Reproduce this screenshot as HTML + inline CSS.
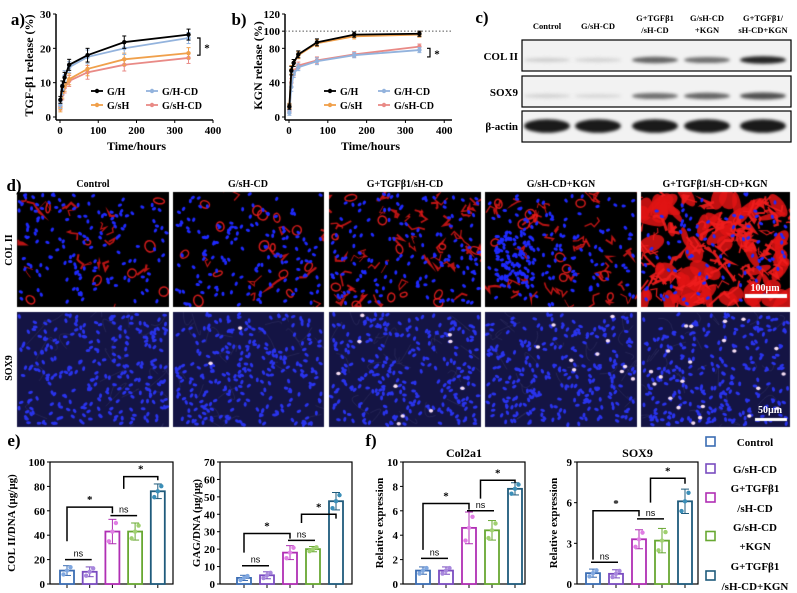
<!DOCTYPE html>
<html><head><meta charset="utf-8">
<style>
html,body{margin:0;padding:0;background:#fff;}
#wrap{position:relative;width:797px;height:593px;overflow:hidden;font-family:"Liberation Serif",serif;}
canvas{position:absolute;}
svg{position:absolute;left:0;top:0;}
text{font-family:"Liberation Serif",serif;font-weight:bold;}
.ns{font-family:"Liberation Sans",sans-serif;font-weight:normal;}
</style></head>
<body>
<div id="wrap">
<canvas id="blot" width="270" height="103" style="left:522px;top:40px"></canvas>
<canvas id="micro" width="797" height="240" style="left:0;top:190px"></canvas>
<svg id="svg" width="797" height="593"></svg>
</div>
<script>
// ---------- DATA ----------
const times=[1,6,12,24,72,168,336];
const aGH=[5,9,11.5,15.2,18,21.8,24];
const aGsH=[2.5,7,9,11,14,16.8,18.6];
const aGHCD=[3.5,8,12,14.5,17.5,20,23];
const aGsHCD=[3,6.5,8.5,10.5,13,15.2,17.2];
const aErr=[1,1.5,1.5,1.6,2,1.8,1.6];
const bGH=[12,54,63,73,87,96,97];
const bGsH=[13,55,63,72,86,94,96];
const bGHCD=[5,35,50,58,65,72,78];
const bGsHCD=[7,40,52,60,66,73,82];
const bErr=[3,5,4,4,4,3,3];
const aTicksY=[0,10,20,30];
const bTicksY=[0,40,80,100,120];
const tTicksX=[0,100,200,300,400];
const groups=["Control","G/sH-CD","G+TGFβ1/sH-CD","G/sH-CD+KGN","G+TGFβ1/sH-CD+KGN"];
const colDNA=[11,10,43,43,76];
const colDNAsd=[4,4,10,7,6];
const gagDNA=[3.5,5,18,20,47.5];
const gagDNAsd=[1.5,2,4,1.5,5];
const col2a1=[1.1,1.1,4.6,4.4,7.8];
const col2a1sd=[0.3,0.3,1.3,0.8,0.5];
const sox9=[0.8,0.75,3.3,3.2,6.1];
const sox9sd=[0.3,0.3,0.7,0.9,0.9];
const colTicks=[0,20,40,60,80,100];
const gagTicks=[0,10,20,30,40,50,60,70];
const c2Ticks=[0,2,4,6,8,10];
const sxTicks=[0,3,6,9];
const blotCol2=[0.1,0.08,0.6,0.55,0.9];
const blotSox=[0.08,0.06,0.55,0.6,0.7];
const blotAct=[0.95,0.95,0.95,0.95,0.95];

const NS="http://www.w3.org/2000/svg";
const svg=document.getElementById('svg');
function el(tag,attrs,parent,txt){const e=document.createElementNS(NS,tag);for(const k in attrs)e.setAttribute(k,attrs[k]);if(txt!==undefined)e.textContent=txt;(parent||svg).appendChild(e);return e;}
function txt(x,y,s,size,opts){opts=opts||{};const t=el('text',{x:x,y:y,'font-size':size,'text-anchor':opts.anchor||'middle',fill:opts.fill||'#000'},opts.parent,s);if(opts.rot)t.setAttribute('transform','rotate(-90 '+x+' '+y+')');if(opts.cls)t.setAttribute('class',opts.cls);return t;}

// ---------- LINE CHARTS ----------
function lineChart(o){
  const g=el('g',{});
  const sx=v=>o.x0+(v/o.xmax)*(o.x1-o.x0);
  const sy=v=>o.y0-(v/o.ymax)*(o.y0-o.y1);
  el('line',{x1:o.x0-4,y1:o.y0+3,x2:o.x0-4,y2:o.y1,stroke:'#000','stroke-width':1.5},g);
  el('line',{x1:o.x0-4,y1:o.y0+3,x2:o.x1,y2:o.y0+3,stroke:'#000','stroke-width':1.5},g);
  if(o.box){el('line',{x1:o.x0-4,y1:o.y1,x2:o.x1,y2:o.y1,stroke:'#000','stroke-width':1.2},g);el('line',{x1:o.x1,y1:o.y1,x2:o.x1,y2:o.y0+3,stroke:'#000','stroke-width':1.2},g);}
  o.yt.forEach(v=>{el('line',{x1:o.x0-7,x2:o.x0-4,y1:sy(v),y2:sy(v),stroke:'#000'},g);txt(o.x0-9,sy(v)+4,String(v),11,{anchor:'end',parent:g,name:'y-tick-label'});});
  tTicksX.forEach(v=>{el('line',{x1:sx(v),x2:sx(v),y1:o.y0+3,y2:o.y0+6,stroke:'#000'},g);txt(sx(v),o.y0+17,String(v),11,{parent:g,name:'x-tick-label'});});
  if(o.dotted)el('line',{x1:o.x0-4,x2:o.x1,y1:sy(100),y2:sy(100),stroke:'#555','stroke-dasharray':'1.5 2'},g);
  o.series.forEach(s=>{
    const p=el('polyline',{points:times.map((t,i)=>sx(t)+','+sy(s.v[i])).join(' '),fill:'none',stroke:s.c,'stroke-width':1.8},g);
    
    times.forEach((t,i)=>{const x=sx(t),e=o.err[i];
      el('line',{x1:x,x2:x,y1:sy(s.v[i]-e),y2:sy(s.v[i]+e),stroke:s.c,'stroke-width':1},g);
      el('line',{x1:x-2,x2:x+2,y1:sy(s.v[i]+e),y2:sy(s.v[i]+e),stroke:s.c},g);
      el('line',{x1:x-2,x2:x+2,y1:sy(s.v[i]-e),y2:sy(s.v[i]-e),stroke:s.c},g);
      const m=el('circle',{cx:x,cy:sy(s.v[i]),r:2.2,fill:s.c},g);});
  });
  txt((o.x0+o.x1)/2,o.y0+33,'Time/hours',12,{parent:g,name:'x-axis-title'});
  txt(o.x0-27,(o.y0+o.y1)/2,o.ytitle,12,{rot:1,parent:g,name:'y-axis-title'});
  o.legend.forEach(l=>{el('line',{x1:l.x-6,x2:l.x+6,y1:l.y,y2:l.y,stroke:l.c,'stroke-width':1.8},g);el('circle',{cx:l.x,cy:l.y,r:2.2,fill:l.c},g);txt(l.x+10,l.y+4,l.n,10,{anchor:'start',parent:g,name:'legend-entry'});});
  const bx=o.brk;el('polyline',{points:(bx-3)+','+sy(o.b1)+' '+bx+','+sy(o.b1)+' '+bx+','+sy(o.b2)+' '+(bx-3)+','+sy(o.b2),fill:'none',stroke:'#000','stroke-width':1.2},g);
  txt(bx+7,(sy(o.b1)+sy(o.b2))/2+5,'*',11,{parent:g,name:'significance-star'});
}
const K='#000',O='#f0a04b',B='#93b3dd',P='#e98a86';
txt(18,25,'a)',17,{name:'panel-a-label'});
lineChart({name:'release-chart-tgf',x0:60,x1:213,y0:117,y1:14,xmax:400,ymax:30,yt:aTicksY,err:aErr,ytitle:'TGF-β1 release (%)',
 series:[{n:'gsh-cd',v:aGsHCD,c:P},{n:'gsh',v:aGsH,c:O},{n:'gh-cd',v:aGHCD,c:B},{n:'gh',v:aGH,c:K}],
 legend:[{x:97,y:91,c:K,n:'G/H'},{x:97,y:105,c:O,n:'G/sH'},{x:152,y:91,c:B,n:'G/H-CD'},{x:152,y:105,c:P,n:'G/sH-CD'}],brk:200,b1:23,b2:18});
txt(239,25,'b)',17,{name:'panel-b-label'});
lineChart({name:'release-chart-kgn',x0:289,x1:452,y0:117,y1:14,xmax:420,ymax:120,yt:bTicksY,err:bErr,ytitle:'KGN release (%)',dotted:1,
 series:[{n:'gsh-cd',v:bGsHCD,c:P},{n:'gh-cd',v:bGHCD,c:B},{n:'gsh',v:bGsH,c:O},{n:'gh',v:bGH,c:K}],
 legend:[{x:330,y:91,c:K,n:'G/H'},{x:330,y:105,c:O,n:'G/sH'},{x:384,y:91,c:B,n:'G/H-CD'},{x:384,y:105,c:P,n:'G/sH-CD'}],brk:430,b1:80,b2:70});

// ---------- PANEL C ----------
txt(482,23,'c)',17,{name:'panel-c-label'});
const cx=[547,598,655,707,763];
const cl=[['Control'],['G/sH-CD'],['G+TGFβ1','/sH-CD'],['G/sH-CD','+KGN'],['G+TGFβ1/','sH-CD+KGN']];
cl.forEach((l,i)=>{if(l.length==1)txt(cx[i],29,l[0],8.5,{name:'blot-column-label'});else{txt(cx[i],21,l[0],8.5,{name:'blot-column-label'});txt(cx[i],33,l[1],8.5,{name:'blot-column-label'});}});
txt(518,60,'COL II',11,{anchor:'end',name:'blot-row-label'});
txt(518,96,'SOX9',11,{anchor:'end',name:'blot-row-label'});
txt(518,130,'β-actin',11,{anchor:'end',name:'blot-row-label'});
[[40,71],[76,107],[111,142]].forEach(r=>{const b=el('rect',{x:522,y:r[0],width:269,height:r[1]-r[0],fill:'none',stroke:'#000','stroke-width':1.2});});
(function(){const c=document.getElementById('blot').getContext('2d');
 c.fillStyle='#f2f2f2';c.fillRect(0,0,270,31);c.fillRect(0,36,270,31);c.fillRect(0,71,270,31);
 c.filter='blur(1.5px)';
 function row(vals,yc,th){vals.forEach((v,i)=>{const x=cx[i]-522;const g=Math.round(230-v*215);
  c.fillStyle='rgb('+g+','+g+','+g+')';c.beginPath();c.ellipse(x,yc,23,th*(0.5+v*0.5),0,0,Math.PI*2);c.fill();});}
 row(blotCol2,20,4);row(blotSox,56,4);row(blotAct,86,7);})();

// ---------- PANEL D ----------
txt(14,191,'d)',17,{name:'panel-d-label'});
const dx=[93,248,405,561,715];
groups.forEach((g,i)=>txt(dx[i],187,g,10,{name:'image-column-label'}));
txt(12,250,'COL II',10,{rot:1,name:'image-row-label'});
txt(12,368,'SOX9',10,{rot:1,name:'image-row-label'});
const cols=[[17,169],[173,324],[329,481],[485,637],[641,790]];
(function(){const c=document.getElementById('micro').getContext('2d');let s=11;
 const r=()=>{s|=0;s=s+0x6D2B79F5|0;let t=Math.imul(s^s>>>15,1|s);t=t+Math.imul(t^t>>>7,61|t)^t;return((t^t>>>14)>>>0)/4294967296;};
 const redN=[18,10,45,40,0],blobN=[8,14,12,10,0],pinkN=[0,2,10,10,22];
 cols.forEach((cc,i)=>{const w=cc[1]-cc[0];
  c.save();
  let y0=2,h=115;c.beginPath();c.rect(cc[0],y0,w,h);c.clip();
  c.fillStyle='#000';c.fillRect(cc[0],y0,w,h);
  c.filter='blur(0.6px)';
  for(let k=0;k<redN[i];k++){c.strokeStyle='rgba(230,25,25,0.8)';c.lineWidth=0.8+r()*1.5;c.beginPath();let x=cc[0]+r()*w,y=y0+r()*h;c.moveTo(x,y);
    for(let j=0;j<4;j++){x+=(r()-0.5)*14;y+=(r()-0.5)*14;c.lineTo(x,y);}c.stroke();}
  for(let k=0;k<blobN[i];k++){c.strokeStyle='rgba(230,30,30,0.9)';c.lineWidth=1.5;c.beginPath();c.ellipse(cc[0]+r()*w,y0+r()*h,3+r()*3,2+r()*3,r()*3,0,7);c.stroke();}
  if(i==4){
    c.fillStyle='rgba(225,20,20,0.85)';for(let k=0;k<70;k++){c.beginPath();c.ellipse(cc[0]+r()*w,y0+r()*h,5+r()*12,3+r()*7,r()*3,0,7);c.fill();}
    c.strokeStyle='rgba(240,30,30,0.9)';for(let k=0;k<90;k++){c.lineWidth=1+r()*2;c.beginPath();let x=cc[0]+r()*w,y=y0+r()*h;c.moveTo(x,y);for(let j=0;j<4;j++){x+=(r()-0.5)*18;y+=(r()-0.5)*18;c.lineTo(x,y);}c.stroke();}
  }
  c.filter='none';
  const nb=i==3?220:i==4?90:140;
  c.fillStyle='#1f2aff';for(let k=0;k<nb;k++){let x=cc[0]+2+r()*(w-4),y=y0+2+r()*(h-4);if(i==3&&k<90){x=cc[0]+10+r()*40;y=y0+40+r()*55;}c.beginPath();c.ellipse(x,y,2.2,1.5,r()*3,0,7);c.fill();}
  c.restore();
  // row2
  c.save();y0=122;h=115;c.beginPath();c.rect(cc[0],y0,w,h);c.clip();
  c.fillStyle='#141444';c.fillRect(cc[0],y0,w,h);
  c.strokeStyle='rgba(70,70,120,0.35)';c.lineWidth=1;for(let k=0;k<25;k++){c.beginPath();let x=cc[0]+r()*w,y=y0+r()*h;c.moveTo(x,y);c.quadraticCurveTo(x+(r()-0.5)*40,y+(r()-0.5)*40,x+(r()-0.5)*40,y+(r()-0.5)*40);c.stroke();}
  c.fillStyle='#2a34ee';for(let k=0;k<260;k++){c.beginPath();c.ellipse(cc[0]+2+r()*(w-4),y0+2+r()*(h-4),2.4,1.5,r()*3,0,7);c.fill();}
  c.fillStyle='#f6def4';for(let k=0;k<pinkN[i];k++){c.beginPath();c.ellipse(cc[0]+3+r()*(w-6),y0+3+r()*(h-6),2.2,1.8,0,0,7);c.fill();}
  c.restore();
 });
 c.fillStyle='#fff';c.fillRect(745,104,42,4);c.fillRect(755,228,32,3);})();
txt(765,291,'100µm',10,{fill:'#fff',name:'scale-bar-label'});
txt(770,413,'50µm',10,{fill:'#fff',name:'scale-bar-label'});

// ---------- BAR CHARTS ----------
const bc=['#3b6db3','#7a4cc0','#b02fb4','#68a832','#1f5b7c'];
const dc=['#7fa7e0','#a887dd','#e07ee4','#a0d070','#3c8fb8'];
function barChart(o){
  const g=el('g',{});
  const sy=v=>o.y0-(v/o.ymax)*(o.y0-o.y1);
  const bx=i=>o.bx0+i*o.step;
  el('rect',{x:o.x0,y:o.y1,width:o.x1-o.x0,height:o.y0-o.y1,fill:'none',stroke:'#000','stroke-width':1.2},g);
  o.yt.forEach(v=>{el('line',{x1:o.x0-3,x2:o.x0,y1:sy(v),y2:sy(v),stroke:'#000'},g);txt(o.x0-5,sy(v)+4,String(v),11,{anchor:'end',parent:g,name:'y-tick-label'});});
  o.v.forEach((v,i)=>{const x=bx(i);
    el('line',{x1:x,x2:x,y1:o.y0,y2:o.y0+4,stroke:'#000'},g);
    const r=el('rect',{x:x-7,y:sy(v),width:14,height:o.y0-sy(v),fill:'#fff',stroke:bc[i],'stroke-width':1.8},g);
    
    const e=o.sd[i];el('line',{x1:x,x2:x,y1:sy(v-e),y2:sy(v+e),stroke:bc[i]},g);
    el('line',{x1:x-4,x2:x+4,y1:sy(v+e),y2:sy(v+e),stroke:bc[i]},g);el('line',{x1:x-4,x2:x+4,y1:sy(v-e),y2:sy(v-e),stroke:bc[i]},g);
    [-0.8,0,0.7].forEach((f,k)=>{el('circle',{cx:x+(k-1)*3.5,cy:sy(v+f*e),r:2.2,fill:dc[i]},g);});
  });
  const seg=(a,b,y)=>el('line',{x1:a,x2:b,y1:sy(y),y2:sy(y),stroke:'#000','stroke-width':1.5},g);
  const m23=(bx(2)+bx(3))/2;
  seg(bx(0)-2,bx(1)+2,o.n1);txt((bx(0)+bx(1))/2,sy(o.n1)-3,'ns',9,{parent:g,cls:'ns',name:'significance-ns'});
  seg(bx(2)-2,bx(3)+2,o.n2);txt(m23,sy(o.n2)-3,'ns',9,{parent:g,cls:'ns',name:'significance-ns'});
  el('polyline',{points:bx(0)+','+sy(o.s1a)+' '+bx(0)+','+sy(o.s1)+' '+bx(2)+','+sy(o.s1)+' '+bx(2)+','+sy(o.s1b),fill:'none',stroke:'#000','stroke-width':1.5},g);
  txt((bx(0)+bx(2))/2,sy(o.s1)-4,'*',11,{parent:g,name:'significance-star'});
  el('polyline',{points:m23+','+sy(o.s2a)+' '+m23+','+sy(o.s2)+' '+bx(4)+','+sy(o.s2)+' '+bx(4)+','+sy(o.s2b),fill:'none',stroke:'#000','stroke-width':1.5},g);
  txt((m23+bx(4))/2,sy(o.s2)-4,'*',11,{parent:g,name:'significance-star'});
  if(o.title)txt((o.x0+o.x1)/2,o.y1-5,o.title,12,{parent:g,name:'chart-title'});
  txt(o.tx,(o.y0+o.y1)/2,o.ytitle,11,{rot:1,parent:g,name:'y-axis-title'});
}
txt(14,446,'e)',17,{name:'panel-e-label'});
txt(371,446,'f)',17,{name:'panel-f-label'});
barChart({name:'col2-dna-chart',x0:50,x1:173,y0:584,y1:462,ymax:100,yt:colTicks,v:colDNA,sd:colDNAsd,bx0:67,step:22.7,ytitle:'COL II/DNA (µg/µg)',tx:15,
 n1:20,n2:56,s1:63,s1a:35,s1b:58,s2:88,s2a:78,s2b:85});
barChart({name:'gag-dna-chart',x0:220,x1:352,y0:584,y1:462,ymax:70,yt:gagTicks,v:gagDNA,sd:gagDNAsd,bx0:244,step:23,ytitle:'GAG/DNA (µg/µg)',tx:200,
 n1:10.5,n2:25,s1:29,s1a:18,s1b:26,s2:40,s2a:35,s2b:37.5});
barChart({name:'col2a1-expression-chart',x0:403,x1:525,y0:584,y1:462,ymax:10,yt:c2Ticks,v:col2a1,sd:col2a1sd,bx0:423,step:23,ytitle:'Relative expression',tx:383,title:'Col2a1',
 n1:2.1,n2:6,s1:6.6,s1a:2.8,s1b:6.1,s2:8.5,s2a:7,s2b:8.3});
barChart({name:'sox9-expression-chart',x0:577,x1:698,y0:584,y1:462,ymax:9,yt:sxTicks,v:sox9,sd:sox9sd,bx0:593,step:23,ytitle:'Relative expression',tx:557,title:'SOX9',
 n1:1.6,n2:4.8,s1:5.4,s1a:1.8,s1b:5,s2:7.8,s2a:6,s2b:7.4});
// legend
const ly=[[442],[469],[488,508],[527,546],[566,586]];
const lyl=[['Control'],['G/sH-CD'],['G+TGFβ1','/sH-CD'],['G/sH-CD','+KGN'],['G+TGFβ1','/sH-CD+KGN']];
ly.forEach((ys,i)=>{const cy=ys.length==1?ys[0]:(ys[0]+ys[1])/2;
  const sq=el('rect',{x:706,y:cy-5,width:9,height:9,fill:'#fff',stroke:bc[i],'stroke-width':1.6});
  lyl[i].forEach((s,k)=>txt(755,ys[k]+4,s,11,{name:'legend-entry'}));});
</script>
</body></html>
